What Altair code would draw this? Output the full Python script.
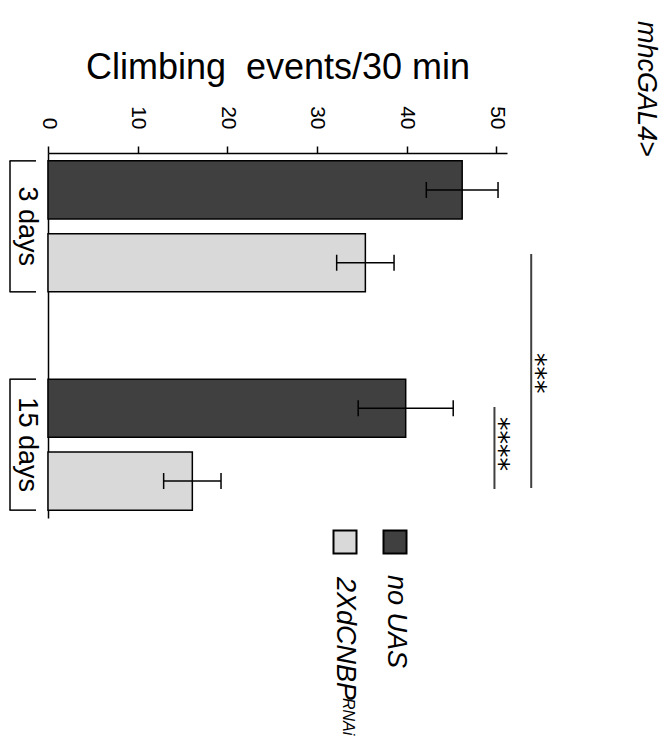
import altair as alt
import pandas as pd

# ---------------- data ----------------
days = ["3 days", "3 days", "15 days", "15 days"]
genotypes = ["no UAS", "2XdCNBP", "no UAS", "2XdCNBP"]
means = [46.2, 35.4, 39.9, 16.1]
sems = [4.0, 3.2, 5.3, 3.2]

day_order = ["3 days", "15 days"]
geno_order = ["no UAS", "2XdCNBP"]
geno_colors = ["#404040", "#d9d9d9"]
x_ticks = [0, 10, 20, 30, 40, 50]

sig_x = [53.9, 49.8]
sig_labels = ["***", "****"]

legend_main = ["no UAS", "2XdCNBP"]
legend_sup = ["", "RNAi"]

# ---------------- tables ----------------
df = pd.DataFrame({"day": days, "genotype": genotypes, "mean": means, "sem": sems})
df["lo"] = df["mean"] - df["sem"]
df["hi"] = df["mean"] + df["sem"]
df_days = pd.DataFrame({"day": day_order})

W, H = 459, 365
FONT = "Liberation Sans"
BAND = 131  # band height in px (H, paddingInner, paddingOuter below)

x_scale = alt.Scale(domain=[0, 51.2], nice=False, zero=True)
y_scale = alt.Scale(domain=day_order, paddingInner=0.4, paddingOuter=0.036)
yoff_scale = alt.Scale(domain=geno_order, paddingInner=0.2, paddingOuter=0)
color_scale = alt.Scale(domain=geno_order, range=geno_colors)

x_axis = alt.Axis(
    orient="top", values=x_ticks, grid=False, labelAngle=90, labelAlign="right",
    labelBaseline="middle", labelFontSize=21, labelPadding=17, tickSize=7,
    tickWidth=1.5, domainWidth=1.5, titleFontSize=36, titlePadding=19,
    title="Climbing\u00a0 events/30 min",
)
y_axis = alt.Axis(
    orient="left", ticks=False, tickSize=0, labelAngle=90, labelAlign="center",
    labelBaseline="top", labelFontSize=27, labelPadding=9, domainWidth=1.5,
    title=None,
)

base = alt.Chart(df)

bars = base.mark_bar(stroke="black", strokeWidth=1.5).encode(
    x=alt.X("mean:Q", scale=x_scale, axis=x_axis),
    y=alt.Y("day:N", scale=y_scale, axis=y_axis, sort=day_order),
    yOffset=alt.YOffset("genotype:N", scale=yoff_scale, sort=geno_order),
    color=alt.Color("genotype:N", scale=color_scale, legend=None),
)

err_line = base.mark_rule(color="black", strokeWidth=1.5).encode(
    x="lo:Q", x2="hi:Q",
    y=alt.Y("day:N"), yOffset=alt.YOffset("genotype:N"),
)
cap_lo = base.mark_tick(orient="vertical", size=16, thickness=1.5, color="black", opacity=1).encode(
    x="lo:Q", y=alt.Y("day:N"), yOffset=alt.YOffset("genotype:N"),
)
cap_hi = base.mark_tick(orient="vertical", size=16, thickness=1.5, color="black", opacity=1).encode(
    x="hi:Q", y=alt.Y("day:N"), yOffset=alt.YOffset("genotype:N"),
)

# category brackets "["
bracket_v = alt.Chart(df_days).mark_tick(
    orient="vertical", size=BAND, thickness=1.5, color="black", opacity=1
).encode(y=alt.Y("day:N"), x=alt.value(-38))
bracket_top = alt.Chart(df_days).mark_rule(color="black", strokeWidth=1.5).encode(
    y=alt.Y("day:N", bandPosition=0), x=alt.value(-38.5), x2=alt.value(-12),
)
bracket_bot = alt.Chart(df_days).mark_rule(color="black", strokeWidth=1.5).encode(
    y=alt.Y("day:N", bandPosition=1), x=alt.value(-38.5), x2=alt.value(-12),
)

layers = [bars, err_line, cap_lo, cap_hi, bracket_v, bracket_top, bracket_bot]

# significance annotations
sig_y = [(101, 335), (254, 336)]
star_y = [200, 264]
for i in range(len(sig_x)):
    sdf = pd.DataFrame({"x": [sig_x[i]], "label": [sig_labels[i]]})
    layers.append(
        alt.Chart(sdf).mark_rule(color="#404040", strokeWidth=2).encode(
            x="x:Q", y=alt.value(sig_y[i][0]), y2=alt.value(sig_y[i][1]),
        )
    )
    layers.append(
        alt.Chart(sdf).mark_text(
            angle=90, align="left", baseline="middle", font="DejaVu Sans",
            fontSize=27, dy=-3.5, color="black",
        ).encode(x="x:Q", y=alt.value(star_y[i]), text="label:N")
    )

# legend (manual, rotated)
sq_x = [347, 297]
txt_x = [347.5, 297]
txt_y = [422, 424]
for i, g in enumerate(geno_order):
    ldf = pd.DataFrame({"genotype": [g], "main": [legend_main[i]], "sup": [legend_sup[i]]})
    layers.append(
        alt.Chart(ldf).mark_square(size=529, stroke="black", strokeWidth=2, opacity=1).encode(
            x=alt.value(sq_x[i]), y=alt.value(389),
            color=alt.Color("genotype:N", scale=color_scale, legend=None),
        )
    )
    layers.append(
        alt.Chart(ldf).mark_text(
            angle=90, align="left", baseline="middle", font=FONT, fontStyle="italic",
            fontSize=27, color="black",
        ).encode(x=alt.value(txt_x[i]), y=alt.value(txt_y[i]), text="main:N")
    )
    if legend_sup[i]:
        layers.append(
            alt.Chart(ldf).mark_text(
                angle=90, align="left", baseline="middle", font=FONT, fontStyle="italic",
                fontSize=16, color="black",
            ).encode(x=alt.value(300), y=alt.value(545), text="sup:N")
        )

# right-hand title
tdf = pd.DataFrame({"t": ["mhcGAL4>"]})
layers.append(
    alt.Chart(tdf).mark_text(
        angle=90, align="left", baseline="middle", font=FONT, fontStyle="italic",
        fontSize=27, color="black",
    ).encode(x=alt.value(598), y=alt.value(-132), text="t:N")
)

chart = alt.layer(*layers).properties(
    width=W, height=H,
    autosize=alt.AutoSizeParams(type="none"),
    padding={"left": 40, "top": 145, "right": 155, "bottom": 218},
).configure_view(stroke=None).configure_axis(
    labelFont=FONT, titleFont=FONT, labelColor="black", titleColor="black",
    domainColor="black", tickColor="black", titleFontWeight="normal",
)

chart.save("out.html", embed_options={"renderer": "svg", "actions": False})
